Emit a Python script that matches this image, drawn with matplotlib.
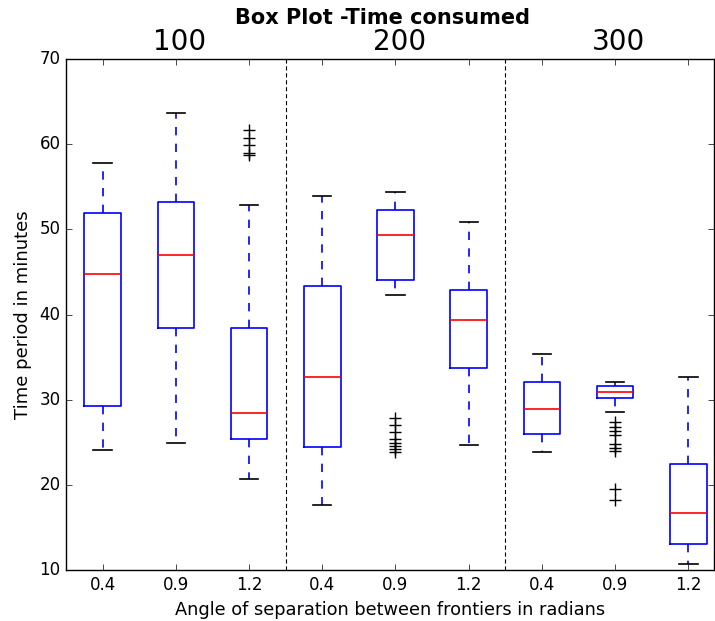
import matplotlib
matplotlib.use("Agg")
from matplotlib import pyplot as plt
import matplotlib.transforms as mtransforms

plt.style.use("classic")

groups = ["100", "200", "300"]
angles = ["0.4", "0.9", "1.2"]

# five-number summaries (min whisker, q1, median, q3, max whisker)
whis_lo = [24.1, 24.9, 20.7, 17.6, 42.3, 24.7, 23.9, 28.6, 10.7]
q1      = [29.2, 38.4, 25.4, 24.5, 44.0, 33.7, 26.0, 30.2, 13.0]
median  = [44.8, 47.0, 28.4, 32.7, 49.3, 39.3, 28.9, 30.9, 16.7]
q3      = [51.9, 53.2, 38.4, 43.3, 52.3, 42.9, 32.1, 31.6, 22.5]
whis_hi = [57.8, 63.7, 52.8, 53.9, 54.4, 50.9, 35.4, 32.1, 32.7]
outliers = [
    [],
    [],
    [61.7, 60.7, 59.9, 59.0, 58.7],
    [],
    [27.8, 27.0, 26.2, 25.4, 24.9, 24.6, 24.2, 23.8],
    [],
    [],
    [27.4, 26.8, 26.3, 25.8, 24.8, 24.3, 24.0, 19.5, 18.2],
    [],
]

stats = []
for i in range(len(median)):
    stats.append({"whislo": whis_lo[i], "q1": q1[i], "med": median[i],
                  "q3": q3[i], "whishi": whis_hi[i], "fliers": outliers[i]})

fig = plt.figure(figsize=(7.15, 6.21), dpi=100, facecolor="white")
ax = fig.add_axes([0.0923, 0.0821, 0.9063, 0.8229])
ax.set_facecolor("white")

positions = list(range(1, len(stats) + 1))
ax.bxp(stats, positions=positions, widths=0.5,
       boxprops={"color": "b", "linewidth": 1.2},
       whiskerprops={"color": "b", "linestyle": "--", "linewidth": 1.2},
       capprops={"color": "k", "linewidth": 1.2},
       medianprops={"color": "r", "linewidth": 1.2},
       flierprops={"marker": "+", "markeredgecolor": "k", "markersize": 8})

ax.set_xticks(positions)
ax.set_xticklabels(angles * len(groups), fontsize=12)
ax.tick_params(axis="y", labelsize=12)
ax.set_xlim(0.5, 9.35)
ax.set_ylim(10, 70)

for xv in [3.5, 6.5]:
    ax.axvline(xv, color="k", linestyle=(0, (3, 2)), linewidth=0.8)

trans = mtransforms.blended_transform_factory(ax.transData, ax.transAxes)
for k, g in enumerate(groups):
    ax.text(3 * k + 2.05, 1.005, g, transform=trans, ha="center", va="bottom", fontsize=20)

ax.set_title("Box Plot -Time consumed", fontsize=15, fontweight="bold", pad=25, x=0.489)
ax.set_xlabel("Angle of separation between frontiers in radians", fontsize=12.8)
ax.set_ylabel("Time period in minutes", fontsize=13)

fig.savefig("out.png", dpi=100, facecolor="white")
